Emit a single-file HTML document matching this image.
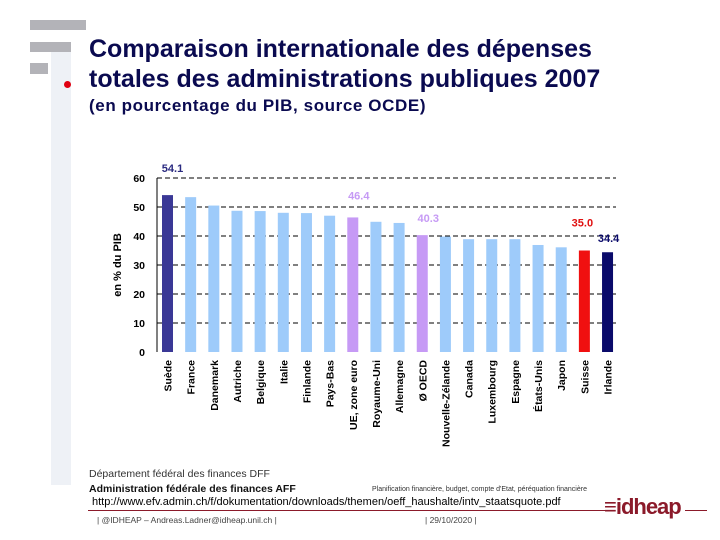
<!DOCTYPE html>
<html><head><meta charset="utf-8"><style>
body{margin:0;width:720px;height:540px;background:#fff;position:relative;overflow:hidden;font-family:"Liberation Sans",sans-serif}
.a{position:absolute;margin:0;white-space:nowrap}
</style></head><body>
<div class="a" style="left:51px;top:52px;width:20px;height:433px;background:#eef1f6"></div>
<div class="a" style="left:30px;top:20px;width:56px;height:10px;background:#b3b3b8"></div>
<div class="a" style="left:30px;top:42px;width:41px;height:10px;background:#b3b3b8"></div>
<div class="a" style="left:30px;top:63px;width:18px;height:11px;background:#b3b3b8"></div>
<div class="a" style="left:64px;top:81px;width:7px;height:7px;border-radius:50%;background:#e00010"></div>
<div class="a" style="left:89px;top:34px;font-size:25px;font-weight:bold;color:#0a0a50;line-height:30px">Comparaison internationale des dépenses<br>totales des administrations publiques 2007</div>
<div class="a" style="left:89px;top:96px;font-size:17px;font-weight:bold;color:#0a0a50;letter-spacing:0.6px">(en pourcentage du PIB, source OCDE)</div>
<svg class="a" style="left:0;top:0" width="720" height="540" id="chart"></svg>
<div class="a" style="left:89px;top:468px;font-size:10.5px;color:#333">Département fédéral des finances DFF</div>
<div class="a" style="left:89px;top:483px;font-size:10.5px;font-weight:bold;color:#111">Administration fédérale des finances AFF</div>
<div class="a" style="left:372px;top:486px;font-size:7px;color:#333">Planification financière, budget, compte d'Etat, péréquation financière</div>
<div class="a" style="left:92px;top:496px;font-size:11px;color:#000">http://www.efv.admin.ch/f/dokumentation/downloads/themen/oeff_haushalte/intv_staatsquote.pdf</div>
<div class="a" style="left:88px;top:510px;width:520px;height:1px;background:#8b1a2a"></div>
<div class="a" style="left:685px;top:510px;width:22px;height:1px;background:#8b1a2a"></div>
<div class="a" style="left:604px;top:494px;font-size:22px;font-weight:bold;color:#8b1a2a;letter-spacing:-1px">≡idheap</div>
<div class="a" style="left:97px;top:515px;font-size:8.5px;color:#444">| @IDHEAP – Andreas.Ladner@idheap.unil.ch |</div>
<div class="a" style="left:425px;top:515px;font-size:8.5px;color:#444">| 29/10/2020 |</div>
<script>
const categories=["Suède","France","Danemark","Autriche","Belgique","Italie","Finlande","Pays-Bas","UE, zone euro","Royaume-Uni","Allemagne","Ø OECD","Nouvelle-Zélande","Canada","Luxembourg","Espagne","États-Unis","Japon","Suisse","Irlande"];
const values=[54.1,53.4,50.5,48.7,48.6,48.0,47.9,47.0,46.4,44.9,44.5,40.3,39.8,38.9,38.9,38.9,36.9,36.1,35.0,34.4];
const colors=["#3a3896","#9ecbfa","#9ecbfa","#9ecbfa","#9ecbfa","#9ecbfa","#9ecbfa","#9ecbfa","#c69af5","#9ecbfa","#9ecbfa","#c69af5","#9ecbfa","#9ecbfa","#9ecbfa","#9ecbfa","#9ecbfa","#9ecbfa","#f01010","#0a0a6a"];
const labelled={0:"#2a2a80",8:"#c69af5",11:"#c69af5",18:"#e01010",19:"#0a0a6a"};
const yTicks=[0,10,20,30,40,50,60];
const labelOff={0:[5,-23],8:[6,-18],11:[6,-13],18:[-2,-24],19:[1,-10]};
const NS="http://www.w3.org/2000/svg";
const svg=document.getElementById('chart');
const y=v=>352-v*2.9;
const x=i=>162+i*23.16;
function mk(t,a){const e=document.createElementNS(NS,t);for(const k in a)e.setAttribute(k,a[k]);svg.appendChild(e);return e;}
yTicks.forEach(t=>{
  if(t>0){const l=mk('line',{x1:157,x2:616,y1:y(t),y2:y(t),stroke:'#000','stroke-dasharray':'5,3','stroke-width':1});
  
  }
  const tx=mk('text',{x:145,y:y(t)+4,'text-anchor':'end','font-size':10.5,'font-weight':'bold','font-family':'Liberation Sans'});
  tx.textContent=t;
  
  
});
const ax=mk('line',{x1:157,x2:157,y1:y(60),y2:352,stroke:'#000'});


const at=mk('text',{x:0,y:0,transform:'translate(121,265) rotate(-90)','text-anchor':'middle','font-size':11,'font-weight':'bold','font-family':'Liberation Sans'});
at.textContent='en % du PIB';


categories.forEach((c,i)=>{
  const r=mk('rect',{x:x(i),y:y(values[i]),width:11,height:352-y(values[i]),fill:colors[i]});
  
  
  const tl=mk('text',{x:0,y:0,transform:`translate(${x(i)+9.5},${360}) rotate(-90)`,'text-anchor':'end','font-size':10.5,'font-weight':'bold','font-family':'Liberation Sans'});
  tl.textContent=c;
  
  
  if(labelled[i]){
    const o=labelOff[i];
    const vl=mk('text',{x:x(i)+5.5+o[0],y:y(values[i])+o[1],'text-anchor':'middle','font-size':11,'font-weight':'bold',fill:labelled[i],'font-family':'Liberation Sans'});
    vl.textContent=values[i].toFixed(1);
    
    
  }
});
</script>
</body></html>
